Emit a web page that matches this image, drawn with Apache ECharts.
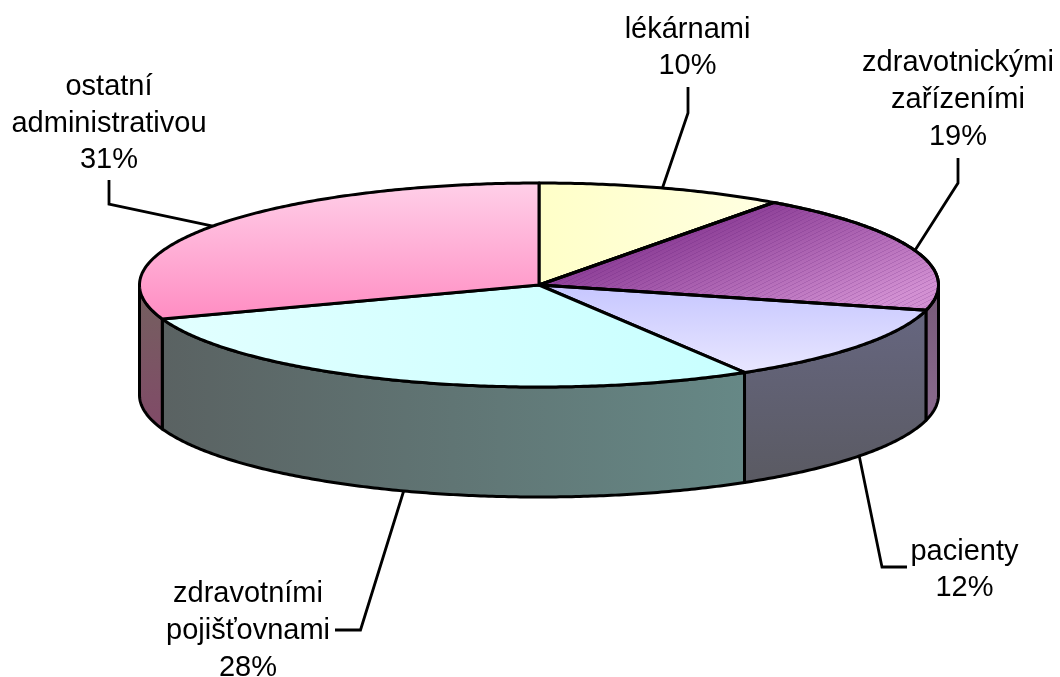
<!DOCTYPE html>
<html>
<head>
<meta charset="utf-8">
<style>html,body{margin:0;padding:0;background:#fff}#c{width:1060px;height:677px}</style>
<script src="https://cdn.jsdelivr.net/npm/echarts@6/dist/echarts.min.js"></script>
</head>
<body>
<div id="c"></div>
<script>
// ---- data ----
var categories = ['lékárnami', 'zdravotnickými\nzařízeními', 'pacienty', 'zdravotními\npojišťovnami', 'ostatní\nadministrativou'];
var shareValues = [10, 19, 12.4, 28.2, 30.4];
var shareLabels = ['10%', '19%', '12%', '28%', '31%'];

// ---- layout ----
var cx = 539, cy = 285, rx = 399.5, ry = 102, depth = 110;
var font = '29px "Liberation Sans", Arial, sans-serif';
var labelLayout = [
  {x: 687.5, y: 48,  elbow: [[688, 87], [688, 113]], anchor: 'top'},
  {x: 958, y: 100,  elbow: [[958, 158], [958, 183]], anchor: 'top'},
  {x: 964.5, y: 570, elbow: [[907, 567], [882, 567]], anchor: 'wall'},
  {x: 248, y: 631, elbow: [[335, 630], [360.5, 630]], anchor: 'wall'},
  {x: 109, y: 123.5, elbow: [[109, 180], [109, 204]], anchor: 'top'}
];

function grad(x0, y0, x1, y1, a, b) {
  return new echarts.graphic.LinearGradient(x0, y0, x1, y1, [{offset: 0, color: a}, {offset: 1, color: b}], true);
}
var topFills = [
  grad(539, 0, 775, 0, '#ffffc8', '#ffffe2'),
  grad(539, 285, 584, 410, '#8e4098', '#d290d2'),
  grad(0, 290, 0, 372, '#c8c8ff', '#e8e6ff'),
  grad(160, 0, 745, 0, '#e2ffff', '#c8ffff'),
  grad(0, 183, 0, 320, '#ffcfe8', '#ff8cc2')
];
var wallFills = [
  '#777',
  grad(0, 310, 0, 420, '#7a5c7c', '#8a6a8e'),
  grad(0, 310, 0, 484, '#666680', '#5a5a62'),
  grad(162, 0, 744, 0, '#5a6262', '#668886'),
  grad(0, 290, 0, 430, '#74605f', '#814a68')
];

// fine diagonal hatch over the purple slice
var hatch = document.createElement('canvas');
hatch.width = 8; hatch.height = 4;
(function () {
  var g = hatch.getContext('2d');
  g.fillStyle = 'rgba(90,20,110,0.16)';
  for (var i = 0; i < 8; i++) {
    g.fillRect(i, (Math.floor(i / 2) * -1 + 8) % 4, 1, 1);
  }
})();

function pt(angle, dy) {
  return [cx + rx * Math.sin(angle), cy - ry * Math.cos(angle) + (dy || 0)];
}
function arc(a0, a1, dy) {
  var n = Math.max(2, Math.ceil(Math.abs(a1 - a0) / 0.01)), out = [];
  for (var i = 0; i <= n; i++) out.push(pt(a0 + (a1 - a0) * i / n, dy));
  return out;
}

var total = shareValues.reduce(function (s, v) { return s + v; }, 0);
var chartData = [];
shareValues.reduce(function (s, v, i) { chartData.push([i, s, v]); return s + v; }, 0);

function renderItem(params, api) {
  var i = api.value(0);
  var a0 = api.value(1) / total * 2 * Math.PI;
  var a1 = a0 + api.value(2) / total * 2 * Math.PI;
  var mid = (a0 + a1) / 2;
  var stroke = {stroke: '#000', lineWidth: 3, lineJoin: 'round'};
  var children = [];

  // leader line first, so the slice covers its root
  var lay = labelLayout[i];
  var root = pt(mid, lay.anchor === 'wall' ? depth : 0);
  var leader = lay.elbow.concat([root]);
  children.push({type: 'polyline', shape: {points: leader},
    style: {stroke: '#000', lineWidth: 2.8, fill: null}, z2: 1});

  // wall: only the front half of the rim (PI/2 .. 3PI/2)
  var w0 = Math.max(a0, Math.PI / 2), w1 = Math.min(a1, 3 * Math.PI / 2);
  if (w1 > w0) {
    var wall = arc(w0, w1, 0).concat(arc(w1, w0, depth));
    children.push({type: 'polygon', shape: {points: wall},
      style: Object.assign({fill: wallFills[i]}, stroke), z2: 2});
  }

  // top face
  var top = [[cx, cy]].concat(arc(a0, a1, 0));
  children.push({type: 'polygon', shape: {points: top},
    style: Object.assign({fill: topFills[i]}, stroke), z2: 3});
  if (i === 1) {
    children.push({type: 'polygon', shape: {points: top},
      style: {fill: {image: hatch, repeat: 'repeat'}, stroke: null}, z2: 4});
    children.push({type: 'polygon', shape: {points: top},
      style: {fill: null, stroke: '#000', lineWidth: 3, lineJoin: 'round'}, z2: 4});
  }

  children.push({type: 'text', z2: 6, style: {
    x: lay.x, y: lay.y, text: categories[i] + '\n' + shareLabels[i],
    font: font, fill: '#000', align: 'center', verticalAlign: 'middle', lineHeight: 36.8
  }});
  return {type: 'group', children: children};
}

var chart = echarts.init(document.getElementById('c'), null, {renderer: 'canvas'});
chart.setOption({
  animation: false,
  backgroundColor: '#fff',
  series: [{
    type: 'custom',
    coordinateSystem: 'none',
    renderItem: renderItem,
    data: chartData,
    silent: true
  }]
});
</script>
</body>
</html>
